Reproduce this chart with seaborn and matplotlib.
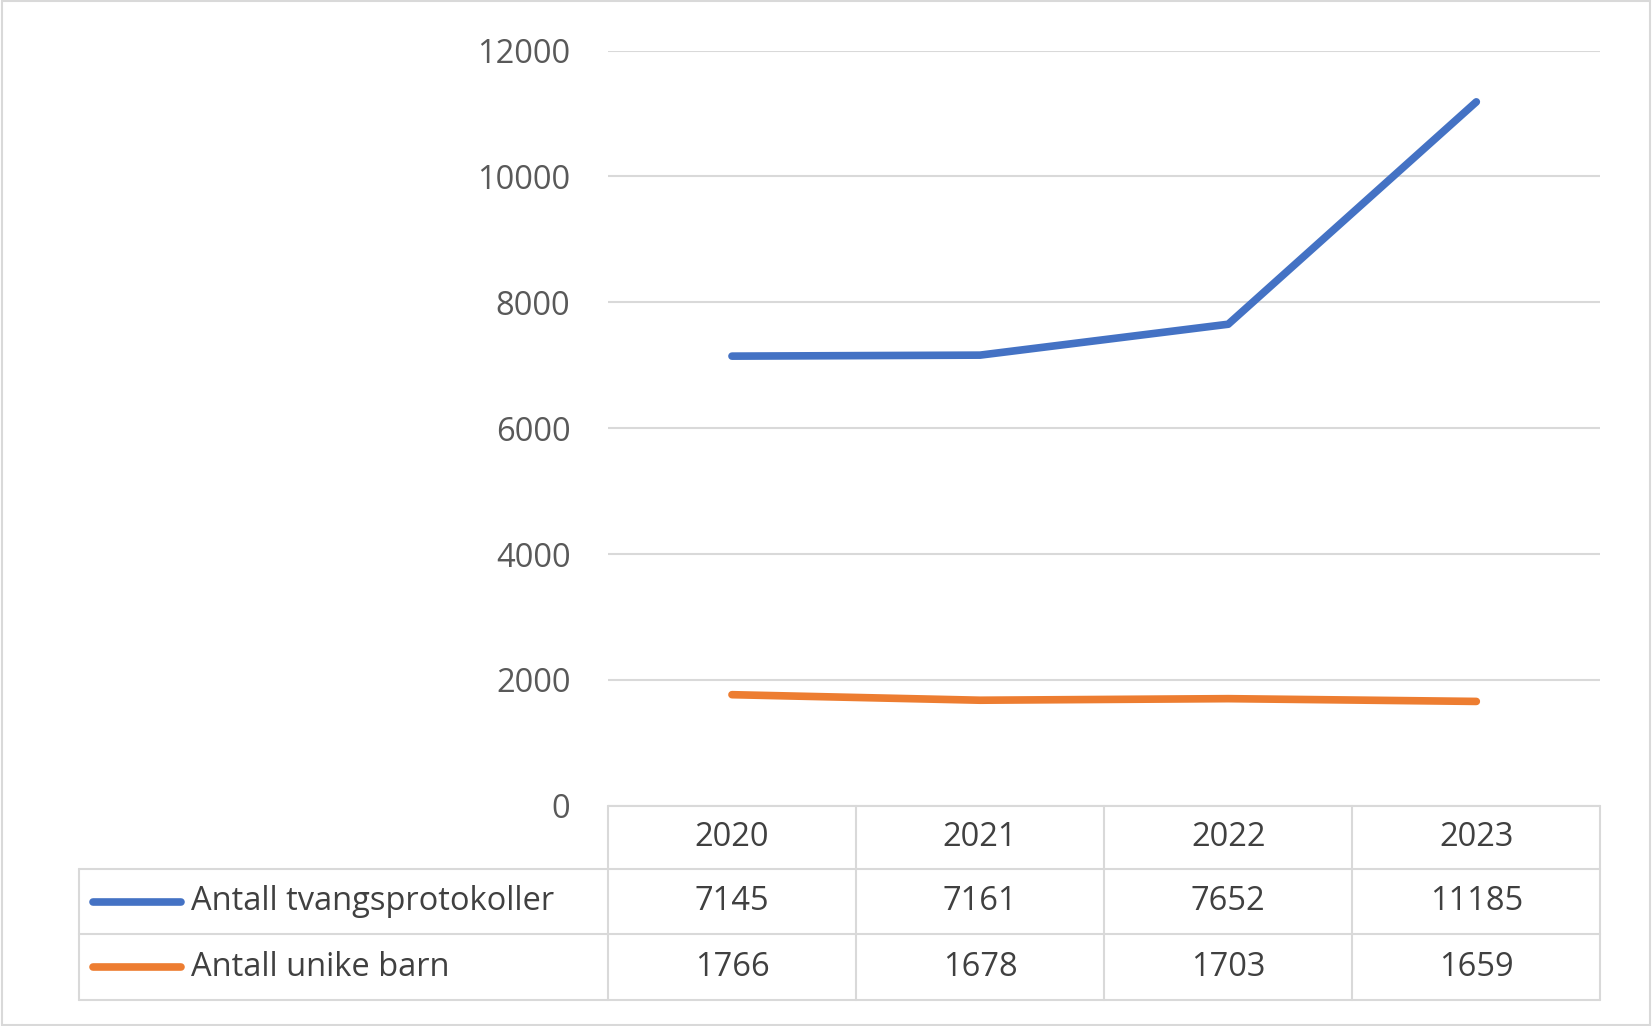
import matplotlib
matplotlib.use("Agg")
import matplotlib.pyplot as plt
import seaborn as sns
import pandas as pd
from matplotlib.lines import Line2D

years = ["2020", "2021", "2022", "2023"]
series_names = ["Antall tvangsprotokoller", "Antall unike barn"]
protokoller = [7145, 7161, 7652, 11185]
barn = [1766, 1678, 1703, 1659]
colors = ["#4472C4", "#ED7D31"]
yticks = [0, 2000, 4000, 6000, 8000, 10000, 12000]

sns.set_theme(style="white")
plt.rcParams['font.family'] = ['Open Sans', 'DejaVu Sans']
FS = 23.5

W, H = 1568, 974
fig = plt.figure(figsize=(16.52, 10.26), dpi=100)
L, R, T, B = 577 / W, 1519 / W, 1 - 48 / H, 1 - 765 / H
ax = fig.add_axes([L, B, R - L, T - B])

df = pd.DataFrame({"x": list(range(4)) * 2,
                   "y": protokoller + barn,
                   "s": [series_names[0]] * 4 + [series_names[1]] * 4})
sns.lineplot(data=df, x="x", y="y", hue="s", palette=colors, lw=5.5,
             legend=False, ax=ax, solid_capstyle="round")
ax.set_xlim(-0.5, 3.5)
ax.set_ylim(0, 12000)
ax.set_yticks(yticks)
ax.set_yticklabels([str(t) for t in yticks], fontsize=FS, color="#595959")
ax.set_xticks([])
ax.set_xlabel(""); ax.set_ylabel("")
ax.grid(axis="y", color="#D9D9D9", lw=1.5)
for s in ax.spines.values():
    s.set_visible(False)
ax.tick_params(axis="y", length=0, pad=27)

gc = "#D9D9D9"
rows_y = [765, 825, 887, 949]
col_x = [577 + i * (1519 - 577) / 4 for i in range(5)]
tl = 75
def fx(x): return x / W
def fy(y): return 1 - y / H
fig.add_artist(Line2D([fx(577), fx(1519)], [fy(765)] * 2, color=gc, lw=1.5))
for y in rows_y[1:]:
    fig.add_artist(Line2D([fx(tl), fx(1519)], [fy(y)] * 2, color=gc, lw=1.5))
for x in col_x:
    fig.add_artist(Line2D([fx(x)] * 2, [fy(765), fy(949)], color=gc, lw=1.5))
fig.add_artist(Line2D([fx(tl)] * 2, [fy(825), fy(949)], color=gc, lw=1.5))
tc = "#404040"
for i, yr in enumerate(years):
    cx = (col_x[i] + col_x[i + 1]) / 2
    fig.text(fx(cx), fy(795), yr, ha="center", va="center", fontsize=FS, color=tc)
    fig.text(fx(cx), fy(856), str(protokoller[i]), ha="center", va="center", fontsize=FS, color=tc)
    fig.text(fx(cx), fy(918), str(barn[i]), ha="center", va="center", fontsize=FS, color=tc)
for j, (name, c, y) in enumerate(zip(series_names, colors, [856, 918])):
    fig.add_artist(Line2D([fx(88), fx(172)], [fy(y)] * 2, color=c, lw=5.5, solid_capstyle="round"))
    fig.text(fx(181), fy(y), name, ha="left", va="center", fontsize=FS, color=tc)

fig.add_artist(plt.Rectangle((0.001, 0.001), 0.998, 0.998, fill=False,
                             edgecolor="#D9D9D9", lw=1.5, transform=fig.transFigure))
fig.savefig("out.png", dpi=100, facecolor="white")
